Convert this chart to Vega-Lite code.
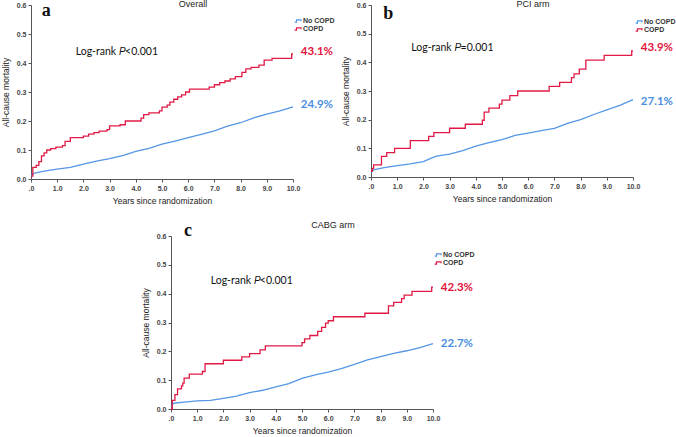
{
  "$schema": "https://vega.github.io/schema/vega-lite/v6.json",
  "padding": {"left": 1, "top": 0, "right": 0, "bottom": 0},
  "config": {
    "view": {"stroke": null},
    "font": "Liberation Sans",
    "axis": {"grid": false, "domainColor": "#555", "tickColor": "#555", "tickSize": 3, "labelFont": "Liberation Sans", "labelFontSize": 7, "labelFontWeight": "bold", "labelColor": "#444", "labelOverlap": false, "labelFlush": false, "titleFont": "Liberation Sans", "titleFontSize": 8.5, "titleFontWeight": "normal", "titleColor": "#222"},
    "axisX": {"tickCount": 20},
    "axisY": {"tickCount": 20},
    "legend": {"labelFont": "Liberation Sans", "labelFontSize": 7, "labelFontWeight": "bold", "labelColor": "#333"},
    "title": {"font": "Liberation Sans", "fontSize": 9, "fontWeight": "normal", "color": "#222", "frame": "group", "dx": 31, "dy": 12}
  },
  "datasets": {
    "km": [
      {"p":"a","g":"COPD","t":0,"m":0.01},{"p":"a","g":"COPD","t":0.07,"m":0.04},{"p":"a","g":"COPD","t":0.2,"m":0.047},{"p":"a","g":"COPD","t":0.3,"m":0.06},{"p":"a","g":"COPD","t":0.4,"m":0.08},{"p":"a","g":"COPD","t":0.5,"m":0.09},{"p":"a","g":"COPD","t":0.6,"m":0.1},{"p":"a","g":"COPD","t":0.75,"m":0.105},{"p":"a","g":"COPD","t":0.95,"m":0.11},{"p":"a","g":"COPD","t":1.2,"m":0.115},{"p":"a","g":"COPD","t":1.3,"m":0.13},{"p":"a","g":"COPD","t":1.5,"m":0.143},{"p":"a","g":"COPD","t":2.0,"m":0.148},{"p":"a","g":"COPD","t":2.2,"m":0.155},{"p":"a","g":"COPD","t":2.4,"m":0.16},{"p":"a","g":"COPD","t":2.6,"m":0.165},{"p":"a","g":"COPD","t":2.9,"m":0.17},{"p":"a","g":"COPD","t":3.0,"m":0.183},{"p":"a","g":"COPD","t":3.4,"m":0.187},{"p":"a","g":"COPD","t":3.6,"m":0.2},{"p":"a","g":"COPD","t":4.2,"m":0.21},{"p":"a","g":"COPD","t":4.3,"m":0.222},{"p":"a","g":"COPD","t":4.5,"m":0.228},{"p":"a","g":"COPD","t":4.9,"m":0.235},{"p":"a","g":"COPD","t":5.0,"m":0.248},{"p":"a","g":"COPD","t":5.2,"m":0.255},{"p":"a","g":"COPD","t":5.3,"m":0.265},{"p":"a","g":"COPD","t":5.45,"m":0.275},{"p":"a","g":"COPD","t":5.6,"m":0.283},{"p":"a","g":"COPD","t":5.75,"m":0.29},{"p":"a","g":"COPD","t":5.9,"m":0.3},{"p":"a","g":"COPD","t":6.05,"m":0.31},{"p":"a","g":"COPD","t":6.8,"m":0.317},{"p":"a","g":"COPD","t":7.0,"m":0.325},{"p":"a","g":"COPD","t":7.2,"m":0.332},{"p":"a","g":"COPD","t":7.4,"m":0.338},{"p":"a","g":"COPD","t":7.6,"m":0.345},{"p":"a","g":"COPD","t":7.8,"m":0.353},{"p":"a","g":"COPD","t":8.05,"m":0.368},{"p":"a","g":"COPD","t":8.2,"m":0.38},{"p":"a","g":"COPD","t":8.4,"m":0.385},{"p":"a","g":"COPD","t":8.7,"m":0.393},{"p":"a","g":"COPD","t":8.9,"m":0.41},{"p":"a","g":"COPD","t":9.2,"m":0.416},{"p":"a","g":"COPD","t":9.95,"m":0.431},{"p":"a","g":"COPD","t":10,"m":0.431},
      {"p":"a","g":"No COPD","t":0,"m":0.012},{"p":"a","g":"No COPD","t":0.13,"m":0.02},{"p":"a","g":"No COPD","t":0.5,"m":0.027},{"p":"a","g":"No COPD","t":1.0,"m":0.034},{"p":"a","g":"No COPD","t":1.5,"m":0.04},{"p":"a","g":"No COPD","t":2.0,"m":0.051},{"p":"a","g":"No COPD","t":2.5,"m":0.062},{"p":"a","g":"No COPD","t":3.0,"m":0.07},{"p":"a","g":"No COPD","t":3.5,"m":0.081},{"p":"a","g":"No COPD","t":4.0,"m":0.095},{"p":"a","g":"No COPD","t":4.5,"m":0.106},{"p":"a","g":"No COPD","t":5.0,"m":0.12},{"p":"a","g":"No COPD","t":5.5,"m":0.131},{"p":"a","g":"No COPD","t":6.0,"m":0.143},{"p":"a","g":"No COPD","t":6.5,"m":0.154},{"p":"a","g":"No COPD","t":7.0,"m":0.166},{"p":"a","g":"No COPD","t":7.5,"m":0.182},{"p":"a","g":"No COPD","t":8.0,"m":0.194},{"p":"a","g":"No COPD","t":8.5,"m":0.211},{"p":"a","g":"No COPD","t":9.0,"m":0.224},{"p":"a","g":"No COPD","t":9.5,"m":0.235},{"p":"a","g":"No COPD","t":10,"m":0.249},
      {"p":"b","g":"COPD","t":0,"m":0.02},{"p":"b","g":"COPD","t":0.05,"m":0.03},{"p":"b","g":"COPD","t":0.1,"m":0.042},{"p":"b","g":"COPD","t":0.4,"m":0.072},{"p":"b","g":"COPD","t":0.6,"m":0.085},{"p":"b","g":"COPD","t":0.9,"m":0.1},{"p":"b","g":"COPD","t":1.5,"m":0.127},{"p":"b","g":"COPD","t":2.2,"m":0.142},{"p":"b","g":"COPD","t":2.4,"m":0.155},{"p":"b","g":"COPD","t":3.0,"m":0.17},{"p":"b","g":"COPD","t":3.6,"m":0.184},{"p":"b","g":"COPD","t":4.25,"m":0.198},{"p":"b","g":"COPD","t":4.32,"m":0.226},{"p":"b","g":"COPD","t":4.5,"m":0.24},{"p":"b","g":"COPD","t":4.9,"m":0.254},{"p":"b","g":"COPD","t":5.0,"m":0.268},{"p":"b","g":"COPD","t":5.3,"m":0.284},{"p":"b","g":"COPD","t":5.6,"m":0.3},{"p":"b","g":"COPD","t":6.8,"m":0.316},{"p":"b","g":"COPD","t":7.2,"m":0.33},{"p":"b","g":"COPD","t":7.65,"m":0.347},{"p":"b","g":"COPD","t":7.75,"m":0.36},{"p":"b","g":"COPD","t":7.95,"m":0.376},{"p":"b","g":"COPD","t":8.2,"m":0.408},{"p":"b","g":"COPD","t":8.9,"m":0.424},{"p":"b","g":"COPD","t":9.95,"m":0.44},{"p":"b","g":"COPD","t":10,"m":0.44},
      {"p":"b","g":"No COPD","t":0,"m":0.015},{"p":"b","g":"No COPD","t":0.1,"m":0.025},{"p":"b","g":"No COPD","t":0.5,"m":0.033},{"p":"b","g":"No COPD","t":1.0,"m":0.04},{"p":"b","g":"No COPD","t":1.5,"m":0.046},{"p":"b","g":"No COPD","t":2.0,"m":0.054},{"p":"b","g":"No COPD","t":2.3,"m":0.066},{"p":"b","g":"No COPD","t":2.5,"m":0.073},{"p":"b","g":"No COPD","t":3.0,"m":0.08},{"p":"b","g":"No COPD","t":3.5,"m":0.092},{"p":"b","g":"No COPD","t":4.0,"m":0.108},{"p":"b","g":"No COPD","t":4.5,"m":0.12},{"p":"b","g":"No COPD","t":5.0,"m":0.13},{"p":"b","g":"No COPD","t":5.5,"m":0.145},{"p":"b","g":"No COPD","t":6.0,"m":0.153},{"p":"b","g":"No COPD","t":6.5,"m":0.162},{"p":"b","g":"No COPD","t":7.0,"m":0.17},{"p":"b","g":"No COPD","t":7.5,"m":0.187},{"p":"b","g":"No COPD","t":8.0,"m":0.2},{"p":"b","g":"No COPD","t":8.5,"m":0.218},{"p":"b","g":"No COPD","t":9.0,"m":0.234},{"p":"b","g":"No COPD","t":9.5,"m":0.25},{"p":"b","g":"No COPD","t":10,"m":0.27},
      {"p":"c","g":"COPD","t":0,"m":0},{"p":"c","g":"COPD","t":0.05,"m":0.03},{"p":"c","g":"COPD","t":0.15,"m":0.05},{"p":"c","g":"COPD","t":0.25,"m":0.07},{"p":"c","g":"COPD","t":0.4,"m":0.08},{"p":"c","g":"COPD","t":0.45,"m":0.09},{"p":"c","g":"COPD","t":0.5,"m":0.107},{"p":"c","g":"COPD","t":0.7,"m":0.121},{"p":"c","g":"COPD","t":1.2,"m":0.13},{"p":"c","g":"COPD","t":1.3,"m":0.157},{"p":"c","g":"COPD","t":2.0,"m":0.169},{"p":"c","g":"COPD","t":2.7,"m":0.181},{"p":"c","g":"COPD","t":3.0,"m":0.192},{"p":"c","g":"COPD","t":3.4,"m":0.205},{"p":"c","g":"COPD","t":3.6,"m":0.219},{"p":"c","g":"COPD","t":5.0,"m":0.23},{"p":"c","g":"COPD","t":5.1,"m":0.243},{"p":"c","g":"COPD","t":5.3,"m":0.255},{"p":"c","g":"COPD","t":5.6,"m":0.269},{"p":"c","g":"COPD","t":5.75,"m":0.283},{"p":"c","g":"COPD","t":5.9,"m":0.298},{"p":"c","g":"COPD","t":6.0,"m":0.306},{"p":"c","g":"COPD","t":6.2,"m":0.32},{"p":"c","g":"COPD","t":7.4,"m":0.332},{"p":"c","g":"COPD","t":8.3,"m":0.358},{"p":"c","g":"COPD","t":8.5,"m":0.37},{"p":"c","g":"COPD","t":8.8,"m":0.383},{"p":"c","g":"COPD","t":8.9,"m":0.395},{"p":"c","g":"COPD","t":9.2,"m":0.408},{"p":"c","g":"COPD","t":9.95,"m":0.423},{"p":"c","g":"COPD","t":10,"m":0.423},
      {"p":"c","g":"No COPD","t":0,"m":0.01},{"p":"c","g":"No COPD","t":0.1,"m":0.02},{"p":"c","g":"No COPD","t":0.5,"m":0.024},{"p":"c","g":"No COPD","t":1.0,"m":0.028},{"p":"c","g":"No COPD","t":1.5,"m":0.03},{"p":"c","g":"No COPD","t":2.0,"m":0.037},{"p":"c","g":"No COPD","t":2.5,"m":0.045},{"p":"c","g":"No COPD","t":3.0,"m":0.057},{"p":"c","g":"No COPD","t":3.5,"m":0.065},{"p":"c","g":"No COPD","t":4.0,"m":0.077},{"p":"c","g":"No COPD","t":4.5,"m":0.088},{"p":"c","g":"No COPD","t":5.0,"m":0.106},{"p":"c","g":"No COPD","t":5.5,"m":0.118},{"p":"c","g":"No COPD","t":6.0,"m":0.128},{"p":"c","g":"No COPD","t":6.5,"m":0.14},{"p":"c","g":"No COPD","t":7.0,"m":0.155},{"p":"c","g":"No COPD","t":7.5,"m":0.17},{"p":"c","g":"No COPD","t":8.0,"m":0.182},{"p":"c","g":"No COPD","t":8.5,"m":0.193},{"p":"c","g":"No COPD","t":9.0,"m":0.202},{"p":"c","g":"No COPD","t":9.5,"m":0.213},{"p":"c","g":"No COPD","t":10,"m":0.227}
    ]
  },
  "resolve": {"scale": {"color": "independent"}},
  "spacing": 16,
  "vconcat": [
    {
      "resolve": {"scale": {"color": "independent"}},
      "spacing": 6,
      "hconcat": [
        {
          "width": 262, "height": 174,
          "title": {"text": "Overall"},
          "layer": [
            {"data": {"name": "km"}, "transform": [{"filter": "datum.p == 'a' && datum.g == 'No COPD'"}],
             "mark": {"type": "line", "interpolate": "linear", "strokeWidth": 1.3},
             "encoding": {
               "x": {"field": "t", "type": "quantitative", "scale": {"domain": [0, 10], "nice": false}, "axis": {"title": "Years since randomization", "values": [0,1,2,3,4,5,6,7,8,9,10], "tickCount": 20, "labelExpr": "datum.value == 0 ? '.0' : format(datum.value, '.1f')", "titlePadding": 5}},
               "y": {"field": "m", "type": "quantitative", "scale": {"domain": [0, 0.6], "nice": false}, "axis": {"title": "All-cause mortality", "values": [0,0.1,0.2,0.3,0.4,0.5,0.6], "tickCount": 20, "format": ".1f", "titlePadding": 6}},
               "color": {"field": "g", "type": "nominal", "scale": {"domain": ["No COPD", "COPD"], "range": ["#5596e6", "#e11a45"]}, "legend": {"orient": "none", "legendX": 263, "legendY": 12, "title": null, "symbolType": "M-1,0.35H-0.45V-0.35H0.9V0.05", "symbolStrokeWidth": 1.2, "symbolSize": 45, "rowPadding": 0, "labelOffset": 1}}
             }},
            {"data": {"name": "km"}, "transform": [{"filter": "datum.p == 'a' && datum.g == 'COPD'"}],
             "mark": {"type": "line", "interpolate": "step-after", "strokeWidth": 1.3},
             "encoding": {"x": {"field": "t", "type": "quantitative"}, "y": {"field": "m", "type": "quantitative"}, "color": {"field": "g", "type": "nominal"}}},
            {"data": {"values": [{}]}, "mark": {"type": "text", "font": "Liberation Serif", "fontWeight": "bold", "fontSize": 18, "align": "left", "baseline": "middle", "color": "#111"},
             "encoding": {"x": {"datum": 0.41}, "y": {"datum": 0.578}, "text": {"value": "a"}}},
            {"data": {"values": [{}]}, "mark": {"type": "text", "font": "Lato", "fontSize": 10.5, "align": "right", "baseline": "middle", "color": "#111"},
             "encoding": {"x": {"datum": 3.25}, "y": {"datum": 0.437}, "text": {"value": "Log-rank"}}},
            {"data": {"values": [{}]}, "mark": {"type": "text", "font": "Liberation Sans", "fontSize": 10, "fontStyle": "italic", "align": "left", "baseline": "middle", "color": "#111"},
             "encoding": {"x": {"datum": 3.36}, "y": {"datum": 0.437}, "text": {"value": "P"}}},
            {"data": {"values": [{}]}, "mark": {"type": "text", "font": "Lato", "fontSize": 10.5, "align": "left", "baseline": "middle", "color": "#111"},
             "encoding": {"x": {"datum": 3.59}, "y": {"datum": 0.437}, "text": {"value": "<0.001"}}},
            {"data": {"values": [{}]}, "mark": {"type": "text", "font": "Lato", "fontSize": 11.5, "fontWeight": "bold", "align": "left", "baseline": "middle", "color": "#e2143c"},
             "encoding": {"x": {"datum": 10.3}, "y": {"datum": 0.437}, "text": {"value": "43.1%"}}},
            {"data": {"values": [{}]}, "mark": {"type": "text", "font": "Lato", "fontSize": 11.5, "fontWeight": "bold", "align": "left", "baseline": "middle", "color": "#4b8fe0"},
             "encoding": {"x": {"datum": 10.3}, "y": {"datum": 0.254}, "text": {"value": "24.9%"}}}
          ]
        },
        {
          "width": 262, "height": 172,
          "title": {"text": "PCI arm"},
          "layer": [
            {"data": {"name": "km"}, "transform": [{"filter": "datum.p == 'b' && datum.g == 'No COPD'"}],
             "mark": {"type": "line", "interpolate": "linear", "strokeWidth": 1.3},
             "encoding": {
               "x": {"field": "t", "type": "quantitative", "scale": {"domain": [0, 10], "nice": false}, "axis": {"title": "Years since randomization", "values": [0,1,2,3,4,5,6,7,8,9,10], "tickCount": 20, "labelExpr": "datum.value == 0 ? '.0' : format(datum.value, '.1f')", "titlePadding": 5}},
               "y": {"field": "m", "type": "quantitative", "scale": {"domain": [0, 0.6], "nice": false}, "axis": {"title": "All-cause mortality", "values": [0,0.1,0.2,0.3,0.4,0.5,0.6], "tickCount": 20, "format": ".1f", "titlePadding": 6}},
               "color": {"field": "g", "type": "nominal", "scale": {"domain": ["No COPD", "COPD"], "range": ["#5596e6", "#e11a45"]}, "legend": {"orient": "none", "legendX": 264, "legendY": 13, "title": null, "symbolType": "M-1,0.35H-0.45V-0.35H0.9V0.05", "symbolStrokeWidth": 1.2, "symbolSize": 45, "rowPadding": 0, "labelOffset": 1}}
             }},
            {"data": {"name": "km"}, "transform": [{"filter": "datum.p == 'b' && datum.g == 'COPD'"}],
             "mark": {"type": "line", "interpolate": "step-after", "strokeWidth": 1.3},
             "encoding": {"x": {"field": "t", "type": "quantitative"}, "y": {"field": "m", "type": "quantitative"}, "color": {"field": "g", "type": "nominal"}}},
            {"data": {"values": [{}]}, "mark": {"type": "text", "font": "Liberation Serif", "fontWeight": "bold", "fontSize": 18, "align": "left", "baseline": "middle", "color": "#111"},
             "encoding": {"x": {"datum": 0.47}, "y": {"datum": 0.57}, "text": {"value": "b"}}},
            {"data": {"values": [{}]}, "mark": {"type": "text", "font": "Lato", "fontSize": 10.5, "align": "right", "baseline": "middle", "color": "#111"},
             "encoding": {"x": {"datum": 3.08}, "y": {"datum": 0.45}, "text": {"value": "Log-rank"}}},
            {"data": {"values": [{}]}, "mark": {"type": "text", "font": "Liberation Sans", "fontSize": 10, "fontStyle": "italic", "align": "left", "baseline": "middle", "color": "#111"},
             "encoding": {"x": {"datum": 3.19}, "y": {"datum": 0.45}, "text": {"value": "P"}}},
            {"data": {"values": [{}]}, "mark": {"type": "text", "font": "Lato", "fontSize": 10.5, "align": "left", "baseline": "middle", "color": "#111"},
             "encoding": {"x": {"datum": 3.42}, "y": {"datum": 0.45}, "text": {"value": "=0.001"}}},
            {"data": {"values": [{}]}, "mark": {"type": "text", "font": "Lato", "fontSize": 11.5, "fontWeight": "bold", "align": "left", "baseline": "middle", "color": "#e2143c"},
             "encoding": {"x": {"datum": 10.3}, "y": {"datum": 0.45}, "text": {"value": "43.9%"}}},
            {"data": {"values": [{}]}, "mark": {"type": "text", "font": "Lato", "fontSize": 11.5, "fontWeight": "bold", "align": "left", "baseline": "middle", "color": "#4b8fe0"},
             "encoding": {"x": {"datum": 10.3}, "y": {"datum": 0.262}, "text": {"value": "27.1%"}}}
          ]
        }
      ]
    },
    {
      "resolve": {"scale": {"color": "independent"}},
      "spacing": 0,
      "hconcat": [
        {
          "width": 110, "height": 10,
          "data": {"values": [{}]},
          "mark": {"type": "text"},
          "encoding": {"text": {"value": ""}}
        },
        {
          "width": 262, "height": 173,
          "title": {"text": "CABG arm"},
          "layer": [
            {"data": {"name": "km"}, "transform": [{"filter": "datum.p == 'c' && datum.g == 'No COPD'"}],
             "mark": {"type": "line", "interpolate": "linear", "strokeWidth": 1.3},
             "encoding": {
               "x": {"field": "t", "type": "quantitative", "scale": {"domain": [0, 10], "nice": false}, "axis": {"title": "Years since randomization", "values": [0,1,2,3,4,5,6,7,8,9,10], "tickCount": 20, "labelExpr": "datum.value == 0 ? '.0' : format(datum.value, '.1f')", "titlePadding": 5}},
               "y": {"field": "m", "type": "quantitative", "scale": {"domain": [0, 0.6], "nice": false}, "axis": {"title": "All-cause mortality", "values": [0,0.1,0.2,0.3,0.4,0.5,0.6], "tickCount": 20, "format": ".1f", "titlePadding": 6}},
               "color": {"field": "g", "type": "nominal", "scale": {"domain": ["No COPD", "COPD"], "range": ["#5596e6", "#e11a45"]}, "legend": {"orient": "none", "legendX": 263, "legendY": 15, "title": null, "symbolType": "M-1,0.35H-0.45V-0.35H0.9V0.05", "symbolStrokeWidth": 1.2, "symbolSize": 45, "rowPadding": 0, "labelOffset": 1}}
             }},
            {"data": {"name": "km"}, "transform": [{"filter": "datum.p == 'c' && datum.g == 'COPD'"}],
             "mark": {"type": "line", "interpolate": "step-after", "strokeWidth": 1.3},
             "encoding": {"x": {"field": "t", "type": "quantitative"}, "y": {"field": "m", "type": "quantitative"}, "color": {"field": "g", "type": "nominal"}}},
            {"data": {"values": [{}]}, "mark": {"type": "text", "font": "Liberation Serif", "fontWeight": "bold", "fontSize": 18, "align": "left", "baseline": "middle", "color": "#111"},
             "encoding": {"x": {"datum": 0.5}, "y": {"datum": 0.617}, "text": {"value": "c"}}},
            {"data": {"values": [{}]}, "mark": {"type": "text", "font": "Lato", "fontSize": 10.5, "align": "right", "baseline": "middle", "color": "#111"},
             "encoding": {"x": {"datum": 3.06}, "y": {"datum": 0.443}, "text": {"value": "Log-rank"}}},
            {"data": {"values": [{}]}, "mark": {"type": "text", "font": "Liberation Sans", "fontSize": 10, "fontStyle": "italic", "align": "left", "baseline": "middle", "color": "#111"},
             "encoding": {"x": {"datum": 3.17}, "y": {"datum": 0.443}, "text": {"value": "P"}}},
            {"data": {"values": [{}]}, "mark": {"type": "text", "font": "Lato", "fontSize": 10.5, "align": "left", "baseline": "middle", "color": "#111"},
             "encoding": {"x": {"datum": 3.39}, "y": {"datum": 0.443}, "text": {"value": "<0.001"}}},
            {"data": {"values": [{}]}, "mark": {"type": "text", "font": "Lato", "fontSize": 11.5, "fontWeight": "bold", "align": "left", "baseline": "middle", "color": "#e2143c"},
             "encoding": {"x": {"datum": 10.3}, "y": {"datum": 0.418}, "text": {"value": "42.3%"}}},
            {"data": {"values": [{}]}, "mark": {"type": "text", "font": "Lato", "fontSize": 11.5, "fontWeight": "bold", "align": "left", "baseline": "middle", "color": "#4b8fe0"},
             "encoding": {"x": {"datum": 10.3}, "y": {"datum": 0.225}, "text": {"value": "22.7%"}}}
          ]
        }
      ]
    }
  ]
}
